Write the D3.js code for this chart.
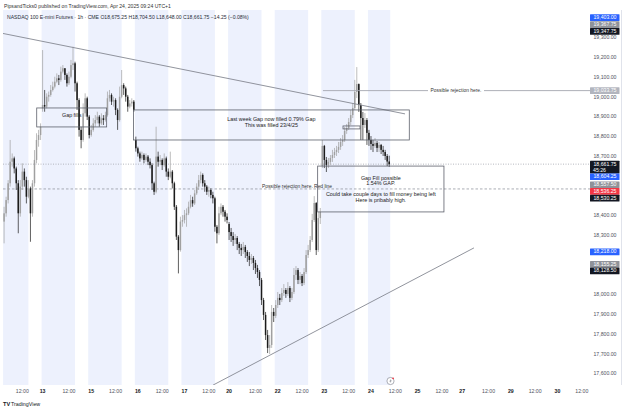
<!DOCTYPE html>
<html><head><meta charset="utf-8">
<script src="https://cdn.jsdelivr.net/npm/d3@7"></script>
<style>
html,body{margin:0;padding:0;background:#fff;}
svg{display:block;font-family:"Liberation Sans",Arial,sans-serif;}
</style></head><body>
<svg id="c" width="625" height="410"></svg>
<script>
// ---------------- DATA ----------------
const sessionDays = ['2025-04-11','2025-04-14','2025-04-15','2025-04-16','2025-04-17','2025-04-21','2025-04-22','2025-04-23','2025-04-24','2025-04-25','2025-04-28','2025-04-29','2025-04-30'];

// hourly closes (Apr 11 03:00 ... Apr 24 09:00)
const closes = [
 18413,18480,18565,18674,18691,18640,18565,18413,18548,18624,18581,18497,18539,18413,18565,18683,18784,18809,18851,
 18961,18953,19003,19012,19037,19054,19079,19096,19088,19130,19147,19113,19071,19104,19163,19172,19071,18986,18835,18784,18919,18995,18902,
 18809,18835,18868,18885,18902,18868,18894,18885,18910,18995,19012,18978,18986,18936,18885,19003,19062,19045,19003,18953,18969,18978,18936,
 18742,18716,18691,18708,18683,18700,18674,18657,18565,18522,18700,18674,18683,18657,18691,18624,18598,18624,18565,18446,18295,18227,18371,
 18379,18404,18413,18446,18480,18463,18514,18548,18581,18607,18565,18548,18522,18531,18506,18489,18345,18312,18413,18446,18421,18396,18379,
 18318,18298,18278,18288,18258,18238,18227,18243,18217,18197,18177,18187,18162,18136,18116,18076,17974,17899,17797,17732,17747,17914,17894,
 17949,17985,17974,18010,18025,18005,18035,17985,18015,18101,18126,18076,18096,18060,18116,18202,18227,18278,18379,18465,18227,18389,18420,
 18754,18683,18658,18673,18693,18708,18723,18734,18749,18774,18784,18830,18845,18875,18910,18946,19027,19067,18961,18895,18860,18885,18820,
 18784,18764,18754,18769,18744,18759,18734,18723,18703,18675,18661.75
];
const highs = [
 18446,18497,18581,18784,18716,18700,18649,18581,18581,18666,18640,18598,18581,18548,18581,18733,18818,18835,18868,
 19239,19037,19020,19029,19062,19079,19104,19121,19113,19155,19163,19147,19121,19130,19189,19256,19180,19079,18995,18851,18969,19020,19003,
 18910,18860,18894,18910,18927,18910,18919,18910,18927,19029,19037,19020,19003,18995,18944,19054,19138,19071,19054,19012,18986,18995,18986,
 18801,18750,18725,18725,18716,18716,18708,18691,18666,18573,18851,18725,18708,18691,18716,18700,18640,18725,18632,18573,18455,18303,18396,
 18404,18430,18438,18472,18506,18497,18531,18565,18607,18624,18615,18581,18556,18548,18539,18522,18497,18354,18446,18463,18455,18430,18413,
 18369,18339,18318,18308,18298,18268,18258,18268,18253,18227,18217,18207,18197,18177,18152,18126,18086,17985,17914,17823,17797,17949,17934,
 17974,18015,18005,18035,18055,18035,18065,18045,18035,18136,18146,18136,18116,18106,18136,18227,18253,18298,18410,18500,18470,18420,18440,
 18784,18759,18698,18693,18708,18734,18744,18754,18774,18794,18809,18850,18865,18895,18936,18971,19088,19153,19070,18971,18926,18920,18895,
 18835,18804,18784,18794,18779,18774,18764,18754,18734,18713,18704.5
];
const lows = [
 18261,18396,18463,18548,18649,18615,18531,18312,18396,18531,18548,18463,18489,18269,18396,18548,18666,18750,18784,
 18927,18927,18944,18978,19003,19029,19045,19071,19062,19079,19121,19088,19054,19062,19096,19138,19029,18936,18801,18742,18775,18902,18885,
 18792,18801,18826,18851,18868,18851,18860,18860,18877,18902,18978,18961,18953,18910,18835,18877,18995,19012,18978,18927,18944,18953,18927,
 18725,18700,18674,18683,18666,18674,18657,18640,18531,18506,18514,18649,18657,18632,18649,18598,18581,18590,18539,18430,18278,18109,18219,
 18345,18362,18345,18404,18438,18446,18455,18506,18531,18565,18548,18522,18506,18497,18489,18463,18320,18261,18303,18404,18396,18371,18362,
 18278,18268,18248,18258,18227,18207,18197,18207,18187,18167,18146,18157,18126,18106,18086,18045,17949,17873,17772,17706,17701,17732,17863,
 17883,17934,17949,17964,17995,17985,17995,17964,17974,18005,18076,18055,18055,18045,18050,18106,18187,18217,18268,18369,18202,18217,18359,
 18642,18642,18622,18642,18658,18673,18693,18703,18718,18734,18754,18774,18815,18835,18860,18895,18936,18996,18926,18784,18784,18845,18759,
 18754,18734,18723,18744,18723,18723,18713,18703,18683,18652,18648
];
// bars whose open differs from the previous close (session gaps)
const gapIndex = [0, 19, 65, 111, 157, 190];
const gapOpen  = [18371, 18944, 18784, 18359, 18652, 18675.25];

const tickTimes  = ['04-11 12','04-13 23','04-14 12','04-15 00','04-15 12','04-16 00','04-16 12','04-17 00','04-17 12','04-20 23','04-21 12','04-22 00','04-22 12','04-23 00','04-23 12','04-24 00','04-24 12','04-25 00','04-25 12','04-27 23','04-28 12','04-29 00','04-29 12','04-30 00','04-30 12'];
const tickLabels = ['12:00','13','12:00','15','12:00','16','12:00','17','12:00','20','12:00','22','12:00','23','12:00','24','12:00','25','12:00','27','12:00','29','12:00','30','12:00'];

const priceTicks = [17600,17700,17800,17900,18000,18100,18200,18300,18400,18500,18600,18700,18800,18900,19000,19100,19200,19300,19400];

// price tags on the right axis
const tagPrices = [19403.00, 19367.75, 19347.75, 19033.75, 18661.75, 18604.25, 18557.50, 18536.25, 18530.25, 18218.00, 18155.25, 18128.50];
const tagKinds  = ['blue','grey','black','light','black','blue','grey','red','black','blue','grey','black'];
const tagExtra  = ['','','','','45:26','','','','','','',''];

// ---------------- BUILD ----------------
const svg = d3.select('#c');
const pad = n => String(n).padStart(2,'0');
const md = t => pad(t.getUTCMonth()+1)+'-'+pad(t.getUTCDate());
const times = [];
sessionDays.forEach((d,k) => {
  const dt = new Date(d+'T00:00:00Z');
  const prev = new Date(dt.getTime()-86400000);
  if (k>0) times.push({key: md(prev)+' 23', hour:23});
  for (let h = (k===0?3:0); h<=21; h++) times.push({key: md(dt)+' '+pad(h), hour:h});
});
const idxOf = {}; times.forEach((t,i)=> idxOf[t.key]=i);

const PL=3, PR=590, PT=10, PB=385;
const x = d3.scaleLinear().domain([0,1]).range([4.09, 4.09+2.027]);
const y = d3.scaleLinear().domain([17600,19300]).range([374,38]);
const step = x(1)-x(0);

const candles = closes.map((c,i)=>{
  const gi = gapIndex.indexOf(i);
  const o = gi>=0 ? gapOpen[gi] : closes[i-1];
  return {i, o, c, h: Math.max(highs[i],o,c), l: Math.min(lows[i],o,c)};
});

svg.append('rect').attr('width',625).attr('height',410).attr('fill','#fff');

svg.append('defs').append('clipPath').attr('id','plot')
  .append('rect').attr('x',PL).attr('y',PT).attr('width',PR-PL).attr('height',PB-PT);
const plot = svg.append('g').attr('clip-path','url(#plot)');

// session bands
const runs=[]; let cur=null;
for (let i=0;i<closes.length;i++){
  const h=times[i].hour; let a=null,b=null;
  if (h===23||h<=14){a=x(i)-step/2;b=x(i)+step/2;}
  else if (h===15){a=x(i)-step/2;b=x(i);}
  if (a!==null){ if(cur && Math.abs(cur.b-a)<0.01) cur.b=b; else {cur={a,b};runs.push(cur);} }
  else cur=null;
}
plot.selectAll('rect.band').data(runs).join('rect').attr('class','band')
  .attr('x',d=>d.a).attr('width',d=>d.b-d.a).attr('y',PT).attr('height',PB-PT)
  .attr('fill','#edf1fd');

// horizontal price lines
plot.append('line').attr('x1',PL).attr('x2',PR).attr('y1',y(18661.75)).attr('y2',y(18661.75))
  .attr('stroke','#a3a6af').attr('stroke-width',0.8).attr('stroke-dasharray','1,1.5');
plot.append('line').attr('x1',PL).attr('x2',PR).attr('y1',y(18536.25)).attr('y2',y(18536.25))
  .attr('stroke','#9598a1').attr('stroke-width',0.8).attr('stroke-dasharray','2.5,2');

// candles
const cg = plot.append('g');
cg.selectAll('line').data(candles).join('line')
  .attr('x1',d=>x(d.i)).attr('x2',d=>x(d.i)).attr('y1',d=>y(d.h)).attr('y2',d=>y(d.l))
  .attr('stroke',d=>d.c>=d.o?'#a0a0a0':'#1b1b1b').attr('stroke-width',0.7);
cg.selectAll('rect').data(candles).join('rect')
  .attr('x',d=>x(d.i)-0.75).attr('width',1.5)
  .attr('y',d=>y(Math.max(d.o,d.c))).attr('height',d=>Math.max(0.6,Math.abs(y(d.o)-y(d.c))))
  .attr('fill',d=>d.c>=d.o?'#a0a0a0':'#1b1b1b');

// trend lines
const trend = [
  {i0:-0.54, p0:19323, i1:197.8, p1:18916},
  {i0:103.1, p0:17544, i1:231.8, p1:18238}
];
plot.selectAll('line.tr').data(trend).join('line').attr('class','tr')
  .attr('x1',d=>x(d.i0)).attr('y1',d=>y(d.p0)).attr('x2',d=>x(d.i1)).attr('y2',d=>y(d.p1))
  .attr('stroke','#858892').attr('stroke-width',0.9);

// rectangles
const boxes = [
  {i0:16.1, i1:50.6, p0:18946, p1:18850, lines:['Gap fills'], ty:[7.2]},
  {i0:63.8, i1:199.9, p0:18936, p1:18784, lines:['Last week Gap now filled 0.79% Gap','This was filled 23/4/25'], ty:[10,15.8]},
  {i0:154.7, i1:217, p0:18652, p1:18420, lines:['Gap Fill possible','1.54% GAP.','Could take couple days to fill money being left','Here is pribably high.'], ty:[12.6,17.6,28.8,35]},
  {i0:167.2, i1:175.6, p0:18855, p1:18840, lines:[], ty:[]}
];
boxes.forEach(b=>{
  const X0=x(b.i0), X1=x(b.i1), Y0=y(b.p0), Y1=y(b.p1);
  plot.append('rect').attr('x',X0).attr('y',Y0).attr('width',X1-X0).attr('height',Y1-Y0)
    .attr('fill','none').attr('stroke','#5d606b').attr('stroke-width',0.8);
  b.lines.forEach((t,k)=>{
    plot.append('text').attr('x',(X0+X1)/2).attr('y',Y0+b.ty[k]).attr('text-anchor','middle')
      .attr('dominant-baseline','middle').attr('font-size',5.4).attr('fill','#222').text(t);
  });
});

// horizontal ray with label
const rayP = 19033.75, rayI = 157.3;
plot.append('line').attr('x1',x(rayI)).attr('x2',428).attr('y1',y(rayP)).attr('y2',y(rayP)).attr('stroke','#a3a6af').attr('stroke-width',0.9);
plot.append('line').attr('x1',484).attr('x2',PR).attr('y1',y(rayP)).attr('y2',y(rayP)).attr('stroke','#a3a6af').attr('stroke-width',0.9);
plot.append('text').attr('x',456).attr('y',y(rayP)).attr('text-anchor','middle').attr('dominant-baseline','middle')
  .attr('font-size',4.9).attr('fill','#333').text('Possible rejection here.');
plot.append('text').attr('x',297).attr('y',y(18536.25)-2).attr('text-anchor','middle').attr('dominant-baseline','middle')
  .attr('font-size',4.9).attr('fill','#333').text('Possible rejection here. Red line');

// flash icon
const fi = svg.append('g').attr('transform','translate(390.5,381)');
fi.append('circle').attr('r',3.6).attr('fill','#fff').attr('stroke','#8a8d96').attr('stroke-width',0.7);
fi.append('path').attr('d','M0.6,-2.2 L-1.2,0.4 L0.1,0.4 L-0.6,2.3 L1.3,-0.5 L0,-0.5 Z').attr('fill','#8a8d96');
fi.append('circle').attr('cx',2.6).attr('cy',-2.7).attr('r',0.9).attr('fill','#f23645');

// tags with simple push-down stacking
const colors = {blue:['#2962ff','#fff'], grey:['#8f9299','#fff'], black:['#131722','#fff'], red:['#f23645','#fff'], light:['#b2b5be','#fff']};
const tags = tagPrices.map((p,k)=>({p, kind:tagKinds[k], extra:tagExtra[k], h: tagExtra[k]?12.6:6.7})).sort((a,b)=>b.p-a.p);
let lastBottom=-1e9;
tags.forEach(t=>{
  let top = y(t.p)-3.35;
  if (top<lastBottom) top=lastBottom;
  t.top=top; lastBottom=top+t.h;
});

// price axis (tick labels hidden where a tag covers them)
svg.append('line').attr('x1',621.5).attr('x2',621.5).attr('y1',PT).attr('y2',PB).attr('stroke','#e0e3eb').attr('stroke-width',1);
const visibleTicks = priceTicks.filter(p=>{
  const a=y(p)-2.6, b=y(p)+2.6;
  return !tags.some(t=> Math.min(b,t.top+t.h)-Math.max(a,t.top) > 0.2);
});
svg.selectAll('text.pt').data(visibleTicks).join('text').attr('class','pt')
  .attr('x',616.5).attr('y',d=>y(d)).attr('text-anchor','end').attr('dominant-baseline','middle')
  .attr('font-size',5.2).attr('fill','#50535e').text(d=>d3.format(',.2f')(d));

const tg = svg.selectAll('g.tag').data(tags).join('g').attr('class','tag');
tg.append('rect').attr('x',590).attr('width',29.5).attr('y',d=>d.top).attr('height',d=>d.h)
  .attr('fill',d=>colors[d.kind][0]).attr('rx',0.5);
tg.append('text').attr('x',616.5).attr('y',d=>d.top+3.45).attr('text-anchor','end').attr('dominant-baseline','middle')
  .attr('font-size',5.2).attr('fill',d=>colors[d.kind][1]).text(d=>d3.format(',.2f')(d.p));
tg.filter(d=>d.extra).append('text').attr('x',593).attr('y',d=>d.top+9.4).attr('text-anchor','start').attr('dominant-baseline','middle')
  .attr('font-size',5.2).attr('fill','#fff').text(d=>d.extra);

// time axis
svg.selectAll('text.tt').data(tickTimes).join('text').attr('class','tt')
  .attr('x',d=>x(idxOf[d])).attr('y',391.5).attr('text-anchor','middle').attr('dominant-baseline','middle')
  .attr('font-size',5.2)
  .attr('font-weight',(d,k)=>tickLabels[k]==='12:00'?'normal':'bold')
  .attr('fill',(d,k)=>tickLabels[k]==='12:00'?'#50535e':'#131722')
  .text((d,k)=>tickLabels[k]);

// header
svg.append('text').attr('x',4).attr('y',6.3).attr('dominant-baseline','middle').attr('font-size',5.1).attr('fill','#333')
  .text('PipsandTicks0 published on TradingView.com, Apr 24, 2025 09:24 UTC+1');
svg.append('text').attr('x',7).attr('y',17.2).attr('dominant-baseline','middle').attr('font-size',5.1).attr('fill','#2a2e39')
  .text('NASDAQ 100 E-mini Futures · 1h · CME  O18,675.25  H18,704.50  L18,648.00  C18,661.75  −14.25 (−0.08%)');

// footer logo
svg.append('text').attr('x',3).attr('y',404.5).attr('dominant-baseline','middle').attr('font-size',5.6).attr('font-weight','900').attr('fill','#131722').text('TV');
svg.append('text').attr('x',11).attr('y',404.5).attr('dominant-baseline','middle').attr('font-size',5.3).attr('fill','#131722').text('TradingView');
</script>
</body></html>
